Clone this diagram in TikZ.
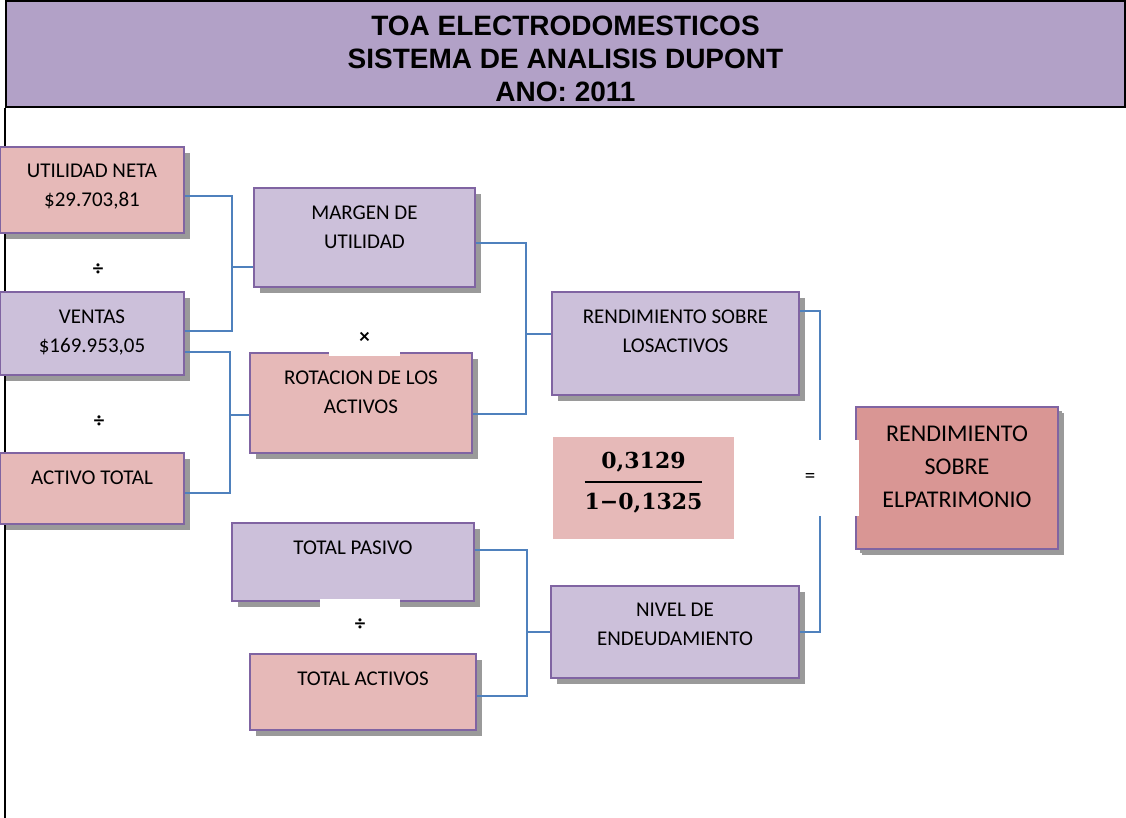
\documentclass[tikz,border=0pt]{standalone}
\usepackage{amsmath}
\usepackage{fontspec}
\setmainfont{Carlito}
\newfontfamily\titlefont{Liberation Sans}
\newfontfamily\fracfont{DejaVu Serif}
\usetikzlibrary{positioning,shadows}
\definecolor{headerpurple}{HTML}{B2A1C7}
\definecolor{lavender}{HTML}{CCC0DA}
\definecolor{rosefill}{HTML}{E6B9B8}
\definecolor{roefill}{HTML}{D99694}
\definecolor{boxline}{HTML}{8064A2}
\definecolor{linkblue}{HTML}{4F81BD}
\definecolor{shadowgray}{HTML}{9A9A9A}

\begin{document}
\begin{tikzpicture}[
  x=1pt, y=-1pt,
  every node/.style={font=\fontsize{21}{29}\selectfont},
  box/.style={rectangle, draw=boxline, line width=1.5pt, inner sep=0pt,
    drop shadow={shadow xshift=6pt, shadow yshift=-6pt, fill=shadowgray, opacity=1}},
  intext/.style={anchor=north, align=center, inner sep=0pt, yshift=-18pt},
  link/.style={draw=linkblue, line width=1.5pt},
  opsign/.style={fill=white, inner sep=0pt},
]
  \useasboundingbox (0,0) rectangle (1126,817);

  % header and frame
  \node[draw, line width=2pt, fill=headerpurple, minimum width=1119pt,
    minimum height=106pt, inner sep=0pt] (header) at (565.5,54) {};
  \node[font=\titlefont\bfseries\fontsize{28}{33}\selectfont, align=center]
    (title) at (565.5,59) {TOA ELECTRODOMESTICOS\\SISTEMA DE ANALISIS DUPONT\\ANO: 2011};
  \draw[line width=2pt] (header.south west) -- ++(0,710);

  % first column
  \node[box, fill=rosefill, minimum width=184pt, minimum height=86pt,
    label={[intext]north:UTILIDAD NETA\\\$29.703,81}] (utilidad) at (92,190) {};
  \node[box, fill=lavender, minimum width=184pt, minimum height=83pt,
    label={[intext]north:VENTAS\\\$169.953,05}] (ventas) at (92,333.5) {};
  \node[box, fill=rosefill, minimum width=184pt, minimum height=71pt,
    label={[intext]north:ACTIVO TOTAL}] (activo) at (92,488.5) {};

  % second column
  \node[box, fill=lavender, minimum width=221pt, minimum height=99pt,
    label={[intext]north:MARGEN DE\\UTILIDAD}] (margen) at (364.5,237.5) {};
  \node[box, fill=rosefill, minimum width=222pt, minimum height=100pt,
    label={[intext]north:ROTACION DE LOS\\ACTIVOS}] (rotacion) at (361,403) {};
  \node[box, fill=lavender, minimum width=242pt, minimum height=78pt,
    label={[intext]north:TOTAL PASIVO}] (pasivo) at (353,562) {};
  \node[box, fill=rosefill, minimum width=226pt, minimum height=76pt,
    label={[intext]north:TOTAL ACTIVOS}] (tactivos) at (363,692) {};

  % third column
  \node[box, fill=lavender, minimum width=247pt, minimum height=103pt,
    label={[intext]north:RENDIMIENTO SOBRE\\LOSACTIVOS}] (rsa) at (675.5,343.5) {};
  \node[box, fill=lavender, minimum width=248pt, minimum height=92pt,
    label={[intext]north:NIVEL DE\\ENDEUDAMIENTO}] (nivel) at (675,632) {};
  \node[fill=rosefill, minimum width=181pt, minimum height=102pt, inner sep=0pt,
    font=\fracfont\bfseries\fontsize{22}{26}\selectfont] (ratio) at (643.5,488)
    {\raisebox{0.5pt}[0pt][0pt]{$\genfrac{}{}{2.2pt}{0}{\text{\rule[-6pt]{0pt}{6pt}0,3129}}{\text{\rule{0pt}{19pt}1−0,1325}}$}};

  % result
  \node[box, fill=roefill, minimum width=202pt, minimum height=142pt,
    drop shadow={shadow xshift=4pt, shadow yshift=-4pt, fill=shadowgray, opacity=1},
    label={[intext, yshift=-1pt, font=\fontsize{24}{33}\selectfont]north:RENDIMIENTO\\SOBRE\\ELPATRIMONIO}]
    (roe) at (957,478) {};

  % connectors
  \coordinate (jA) at (232,267);
  \coordinate (jB) at (230,415);
  \coordinate (jC) at (526,334);
  \coordinate (jD) at (820,478);
  \coordinate (jE) at (527,632);
  \draw[link] ([yshift=-6pt]utilidad.east) -| (jA) |- ([yshift=2.5pt]ventas.east);
  \draw[link] (jA) -- (jA -| margen.west);
  \draw[link] ([yshift=-18.5pt]ventas.east) -| (jB) |- ([yshift=-4.5pt]activo.east);
  \draw[link] (jB) -- (jB -| rotacion.west);
  \draw[link] ([yshift=-5.5pt]margen.east) -| (jC) |- ([yshift=-11pt]rotacion.east);
  \draw[link] (jC) -- (jC -| rsa.west);
  \draw[link] ([yshift=32.5pt]rsa.east) -| (jD) |- (nivel.east);
  \draw[link] ([yshift=12pt]pasivo.east) -| (jE) |- ([yshift=-4pt]tactivos.east);
  \draw[link] (jE) -- (jE -| nivel.west);

  % operators
  \node (div1) at (98,270) {\textbf{÷}};
  \node (div2) at (99,422) {\textbf{÷}};
  \node[opsign, minimum width=71pt, minimum height=36pt] (times) at (364.5,337.5) {\textbf{×}};
  \node[opsign, minimum width=80pt, minimum height=52pt] (div3) at (360,625) {\textbf{÷}};
  \node[opsign, minimum width=98pt, minimum height=76pt] (equals) at (810,478) {=};
\end{tikzpicture}
\end{document}
